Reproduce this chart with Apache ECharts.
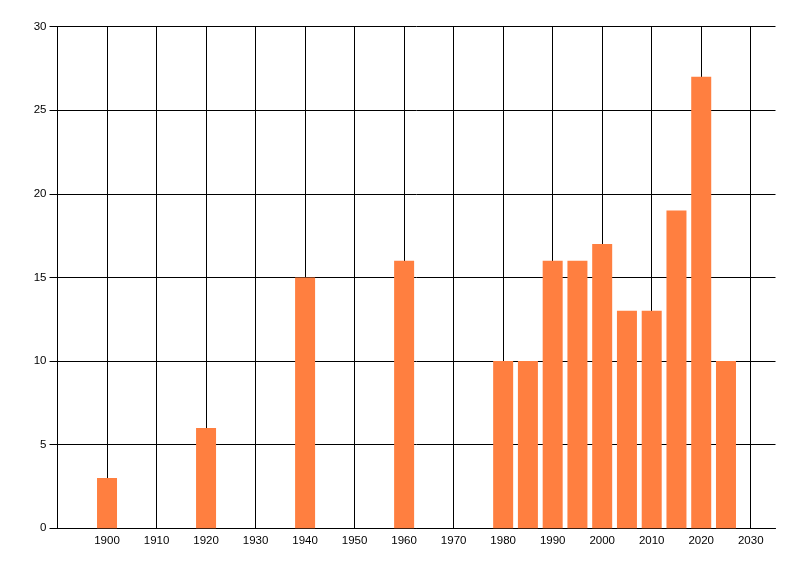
<!DOCTYPE html>
<html>
<head>
<meta charset="utf-8">
<script src="https://cdn.jsdelivr.net/npm/echarts@6/dist/echarts.min.js"></script>
<style>
html,body{margin:0;padding:0;background:#fff;}
#chart{width:800px;height:576px;}
</style>
</head>
<body>
<div id="chart"></div>
<script>
const years = [1900, 1920, 1940, 1960, 1980, 1985, 1990, 1995, 2000, 2005, 2010, 2015, 2020, 2025];
const counts = [3, 6, 15, 16, 10, 10, 16, 16, 17, 13, 13, 19, 27, 10];
const xMin = 1890, xMax = 2035, xStep = 10;
const yMin = 0, yMax = 30, yStep = 5;

const chart = echarts.init(document.getElementById('chart'), null, {renderer: 'canvas'});
const font = {color: '#000', fontFamily: 'Liberation Sans, Arial, sans-serif', fontSize: 11.5};
chart.setOption({
  animation: false,
  backgroundColor: '#fff',
  grid: {left: 57.5, right: 24.5, top: 26.5, bottom: 47.7, containLabel: false},
  xAxis: {
    type: 'value', min: xMin, max: xMax, interval: xStep,
    axisLine: {show: true, lineStyle: {color: '#000', width: 1}},
    axisTick: {show: false},
    axisLabel: Object.assign({showMinLabel: false, showMaxLabel: false, margin: 7, formatter: v => String(v)}, font),
    splitLine: {show: true, showMinLine: false, showMaxLine: false, lineStyle: {color: '#000', width: 1}}
  },
  yAxis: {
    type: 'value', min: yMin, max: yMax, interval: yStep,
    axisLine: {show: true, lineStyle: {color: '#000', width: 1}},
    axisTick: {show: true, length: 8, lineStyle: {color: '#000', width: 1}},
    axisLabel: Object.assign({margin: 11, formatter: v => String(v)}, font),
    splitLine: {show: true, lineStyle: {color: '#000', width: 1}}
  },
  series: [{
    type: 'bar',
    data: years.map((y, i) => [y, counts[i]]),
    barWidth: 20,
    itemStyle: {color: '#FF7F40'}
  }]
});
</script>
</body>
</html>
